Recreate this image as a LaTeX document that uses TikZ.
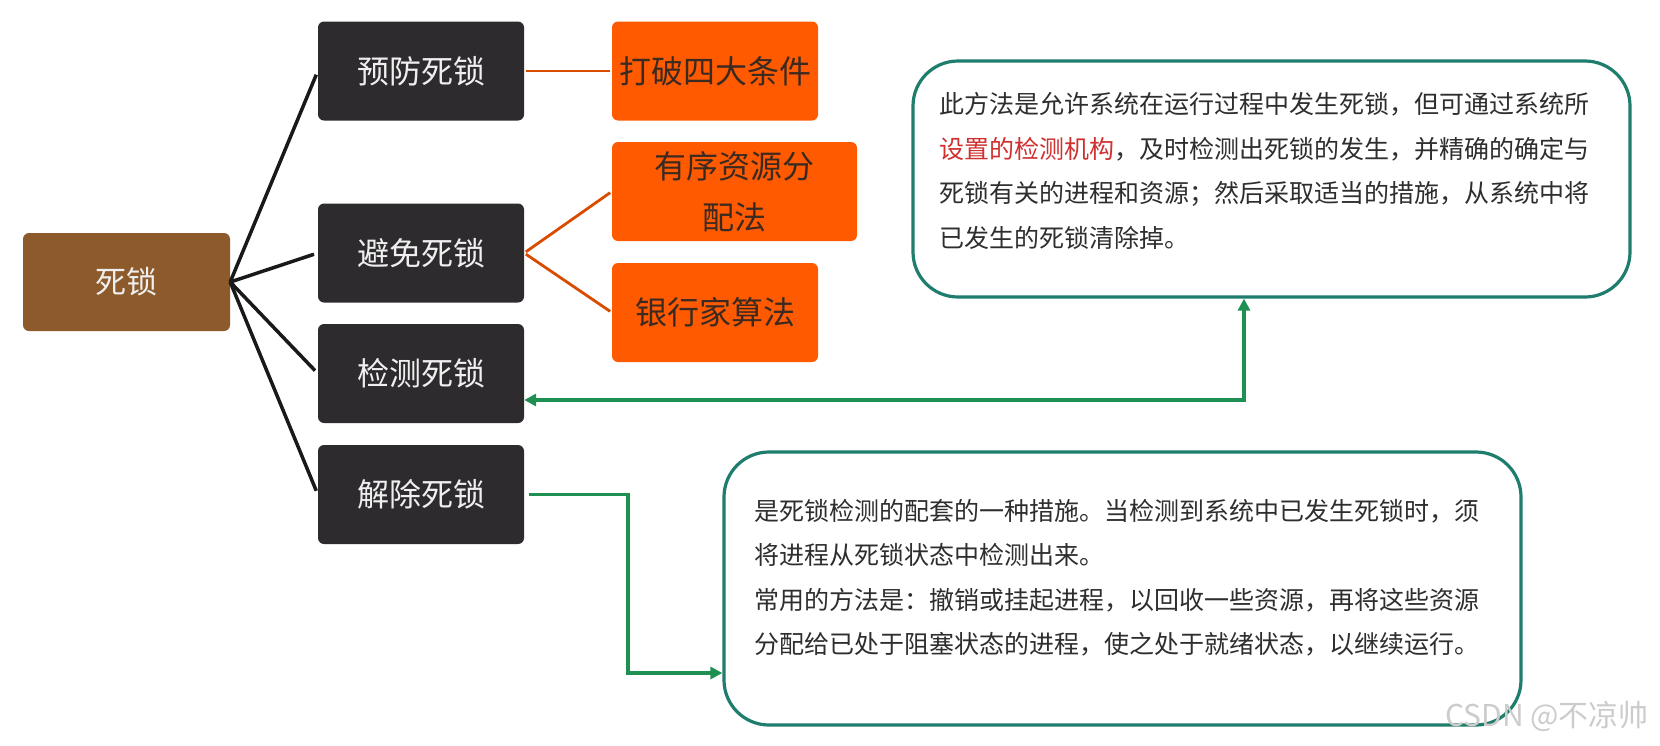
\documentclass[tikz,border=0pt]{standalone}
\usepackage{fontspec}
\setmainfont{Noto Sans CJK SC}
\usetikzlibrary{arrows.meta}
\definecolor{cRoot}{HTML}{8C5A2B}
\definecolor{cDark}{HTML}{2E2B2E}
\definecolor{cOrange}{HTML}{FF5A00}
\definecolor{cTeal}{HTML}{1E7D6C}
\definecolor{cGreen}{HTML}{1E9152}
\definecolor{cText}{HTML}{2E2E2E}
\definecolor{cRed}{HTML}{D03030}
\definecolor{cOrangeText}{HTML}{3A2A22}
\definecolor{cLight}{HTML}{EFEFEF}
\begin{document}
\begin{tikzpicture}[x=1pt,y=-1pt,
  rootbox/.style={fill=cRoot, rounded corners=6pt, minimum width=207pt, minimum height=98pt, inner sep=0pt, text=cLight, font=\fontsize{31}{36}\selectfont},
  darkbox/.style={fill=cDark, rounded corners=6pt, minimum width=206pt, minimum height=99pt, inner sep=0pt, text=cLight, font=\fontsize{32}{38}\selectfont},
  orangebox/.style={fill=cOrange, rounded corners=6pt, minimum width=206pt, minimum height=99pt, inner sep=0pt, text=cOrangeText, font=\fontsize{32}{38}\selectfont},
  infobox/.style={draw=cTeal, line width=3.2pt, rounded corners=45pt, fill=white, inner sep=0pt},
  infotext/.style={text=cText, inner sep=0pt, align=left, font=\fontsize{25}{44.5}\selectfont},
  rootline/.style={draw=black!90, line width=3.5pt, shorten >=4pt},
  orangeline/.style={draw=cOrange!85!black, line width=2.8pt, shorten >=2pt, shorten <=2pt},
  greenarrow/.style={draw=cGreen, line width=3.5pt, arrows={-Triangle[width=12pt,length=12pt]}},
]
\useasboundingbox (0,0) rectangle (1660,745);

\node[rootbox] (root) at (126.5,282) {死锁};
\node[darkbox] (prevent) at (421,71) {预防死锁};
\node[darkbox] (avoid) at (421,253) {避免死锁};
\node[darkbox] (detect) at (421,373.5) {检测死锁};
\node[darkbox] (release) at (421,494.5) {解除死锁};

\node[orangebox] (breakc) at (715,71) {打破四大条件};
\node[orangebox, minimum width=245pt, align=center, font=\fontsize{32}{51}\selectfont] (ordered) at (734.5,191.5) {有序资源分\\配法};
\node[orangebox] (banker) at (715,312.5) {银行家算法};

\node[infobox, minimum width=717pt, minimum height=236pt] (topbox) at (1271.5,179) {};
\node[infobox, minimum width=797pt, minimum height=273pt] (botbox) at (1122.5,588.5) {};

\node[infotext, text width=660pt, anchor=base west] (toptext) at (939,113.5) {此方法是允许系统在运行过程中发生死锁，但可通过系统所\\
\textcolor{cRed}{设置的检测机构}，及时检测出死锁的发生，并精确的确定与\\
死锁有关的进程和资源；然后采取适当的措施，从系统中将\\
已发生的死锁清除掉。};

\node[infotext, text width=740pt, anchor=base west] (bottext) at (754,520) {是死锁检测的配套的一种措施。当检测到系统中已发生死锁时，须\\
将进程从死锁状态中检测出来。\\
常用的方法是：撤销或挂起进程，以回收一些资源，再将这些资源\\
分配给已处于阻塞状态的进程，使之处于就绪状态，以继续运行。};

\draw[rootline] (root.east) -- (prevent.west);
\draw[rootline] (root.east) -- (avoid.west);
\draw[rootline] (root.east) -- (detect.west);
\draw[rootline] (root.east) -- (release.west);

\draw[orangeline] (prevent.east) -- (breakc.west);
\draw[orangeline] (avoid.east) -- (ordered.west);
\draw[orangeline] (avoid.east) -- (banker.west);

\coordinate (bendA) at (1244,400);
\draw[greenarrow, arrows={Triangle[width=12pt,length=12pt]-Triangle[width=12pt,length=12pt]}] (topbox.south -| bendA) -- (bendA) -- (detect.east |- bendA);

\coordinate (bendB) at (628,494.5);
\coordinate (bendC) at (628,673);
\draw[greenarrow, shorten <=5pt] (release.east) -- (bendB) -- (bendC) -- (botbox.west |- bendC);

\node[text=gray!40, font=\fontsize{30}{34}\selectfont, inner sep=0pt] (wm) at (1547,716) {CSDN @不凉帅};
\end{tikzpicture}
\end{document}
